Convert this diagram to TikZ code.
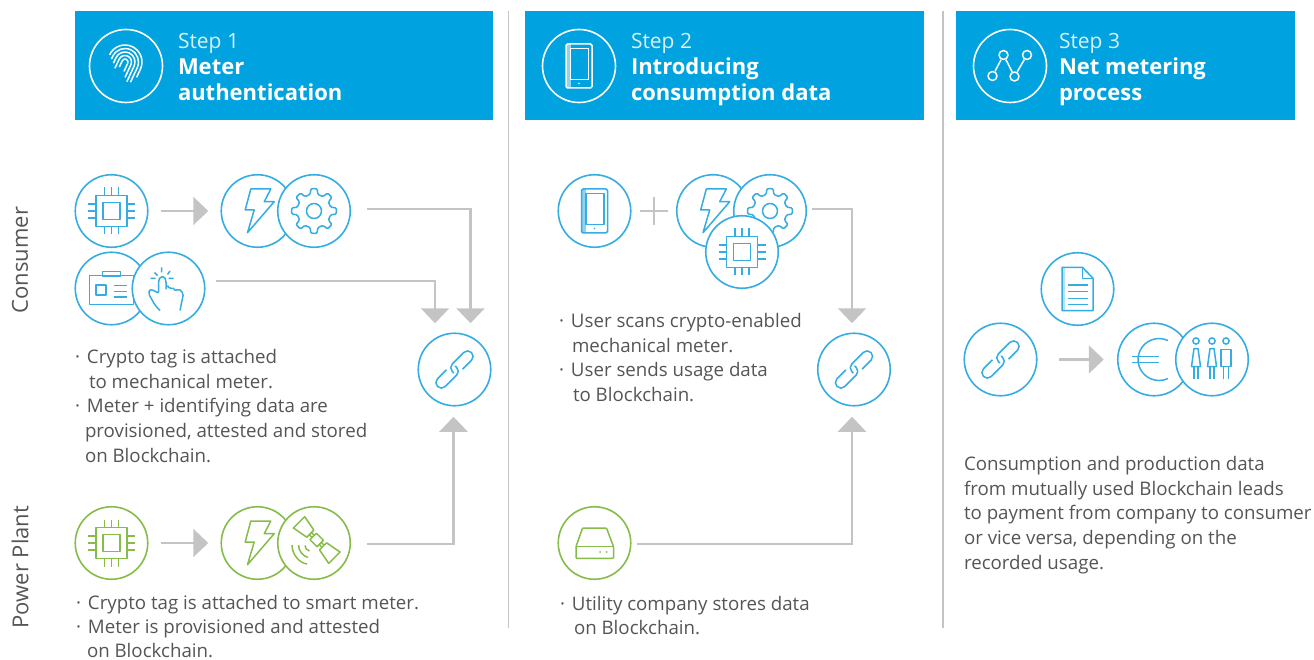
\documentclass[tikz,border=0pt]{standalone}
\usepackage{fontspec}
\setmainfont{Open Sans}
\usetikzlibrary{arrows.meta}
\definecolor{hdr}{HTML}{00A3E0}
\definecolor{bl}{HTML}{35ADE3}
\definecolor{gn}{HTML}{86BC4A}
\definecolor{gr}{HTML}{C4C4C4}
\definecolor{tx}{HTML}{555555}
\definecolor{stepw}{HTML}{D8F1FB}
\newcommand\bl[1]{\makebox[12pt][l]{·}#1}
\tikzset{
 x=1pt,y=-1pt,
 circ/.style={circle,draw=#1,fill=white,line width=1.6pt,minimum size=72.5pt,inner sep=0pt,outer sep=0pt},
 hcirc/.style={circle,draw=white,line width=1.6pt,minimum size=73pt,inner sep=0pt,outer sep=0pt},
 hbox/.style={rectangle,fill=hdr,draw=none,inner sep=0pt,outer sep=0pt},
 icb/.style={color=bl,line width=1.5pt,line join=round},
 icg/.style={color=gn,line width=1.5pt,line join=round},
 icw/.style={color=white,line width=1.5pt,line join=round},
 conn/.style={draw=gr,line width=2.6pt,-{Triangle[width=28pt,length=15pt]}},
 body/.style={text=tx,font=\fontsize{18.7}{24.75}\selectfont,align=left,inner sep=0pt,outer sep=0pt,anchor=north west},
 htxt/.style={text=white,font=\fontsize{22}{26}\selectfont,align=left,inner sep=0pt,outer sep=0pt,anchor=north west},
 side/.style={text=tx,font=\fontsize{22}{26}\selectfont,rotate=90,inner sep=0pt},
 divider/.style={draw=gr,line width=1.2pt},
 chipicon/.pic={
  \draw (-15.5,-15.5) rectangle (15.5,15.5);
  \draw (-8.5,-8.5) rectangle (8.5,8.5);
  \foreach \d in {-7,0,7}{
   \draw (\d,-15.5)--(\d,-23.5);\draw (\d,15.5)--(\d,23.5);
   \draw (-15.5,\d)--(-23.5,\d);\draw (15.5,\d)--(23.5,\d);}
 },
 bolticon/.pic={
  \draw (-6.7,-22)--(13.3,-22)--(6.7,-9.3)--(16.7,-9.3)--(-10,21.7)--(-3.3,-1)--(-12.3,-1)--cycle;
 },
 gearicon/.pic={
  \draw[rounded corners=1.2pt] (-13:17) \foreach \a in {0,45,...,315}{ -- (\a-8:22.5) -- (\a+8:22.5) -- (\a+13:17) -- (\a+32:17)} -- cycle;
  \draw (0,0) circle (7.5);
 },
 badgeicon/.pic={
  \draw (-9,-13)--(-22,-13)--(-22,16)--(22,16)--(22,-13)--(9,-13);
  \draw (-9,-17) rectangle (9,-12.5);
  \draw (-15.5,-3.5) rectangle (-5.5,6.5);
  \draw (2,-3)--(15,-3) (2,3)--(15,3) (2,8.5)--(15,8.5);
 },
 handicon/.pic={
  \draw[rounded corners=2pt] (-2.5,1)--(-2.5,-8)--(-4,-12)--(-8,-12)--(-10,-8)--(-10,5)--(-14,2)--(-19,1)--(-20,5)--(-13.5,16.7)--(-8.5,22);
  \draw[rounded corners=2pt] (11.5,22)--(15,5)--(10,0)--(6.5,2.7)--(5,-1)--(1,0.7)--(-1,-3);
  \draw (-14,-16)--(-11,-13) (-7,-21)--(-7,-16) (1.5,-17.5)--(-1,-14) (-18,-10)--(-13,-10) (0,-10)--(5,-10);
 },
 satelliteicon/.pic={
  \begin{scope}[shift={(2.7,-3)},rotate=-45]
   \draw (-5,-4.5) rectangle (5,4.5);
   \draw (-5,-1.5)--(-9,-1.5) (-5,1.5)--(-9,1.5) (5,-1.5)--(9,-1.5) (5,1.5)--(9,1.5);
   \draw (-9,-5)--(-9,5)--(-25,8)--(-25,-8)--cycle;
   \draw (9,-5)--(9,5)--(25,8)--(25,-8)--cycle;
  \end{scope}
 },
 wavesicon/.pic={
  \draw (-22,2) .. controls (-22,11) and (-15,20) .. (-7,21);
  \draw (-15.5,2) .. controls (-15.5,8) and (-11,13) .. (-6,14.5);
  \draw (-9,2.5) .. controls (-9,5) and (-7,7.5) .. (-4.5,8);
 },
 phoneicon/.pic={
  \fill[opacity=.55] (-13,-22) rectangle (-8.5,22);
  \draw[rounded corners=1.5pt] (-13,-22) rectangle (13,22);
  \draw (-8.5,-17.5) rectangle (9.5,13.3);
  \fill (0,17.5) circle (0.9);
 },
 linkicon/.pic={
  \begin{scope}[rotate=45]
   \draw[rounded corners=5.4pt] (-3,2)--(-3,-5.5)--(24,-5.5)--(24,5.5)--(6,5.5);
   \draw[rounded corners=5.4pt] (3,-2)--(3,5.5)--(-24,5.5)--(-24,-5.5)--(-6,-5.5);
  \end{scope}
 },
 docicon/.pic={
  \fill[opacity=.35] (-15.5,-21.7) rectangle (-12.5,21.7);
  \draw (5,-21.7)--(-15.5,-21.7)--(-15.5,21.7)--(15.5,21.7)--(15.5,-10.7)--cycle;
  \draw (5,-21.7)--(5,-10.7)--(15.5,-10.7);
  \foreach \y in {-4,2.7,9.3,15.3}{\draw (-10,\y)--(10,\y);}
 },
 euroicon/.pic={
  \draw (13.9,-19) arc[start angle=-65,end angle=-295,radius=21];
  \draw (-21.7,-3)--(5.3,-3) (-21.7,3)--(5.3,3);
 },
 peopleicon/.pic={
  \foreach \x in {-16,0}{
   \draw (\x,-18.5) circle (3.1);
   \draw (\x-2,-11)--(\x+2,-11)--(\x+4.5,7)--(\x-4.5,7)--cycle;
   \draw (\x-2,7)--(\x-2,19) (\x+2,7)--(\x+2,19);}
  \draw (14,-18.5) circle (3.1);
  \draw (9,-10) rectangle (19,7);
  \draw (11.5,7)--(11.5,19) (16.5,7)--(16.5,19);
 },
 driveicon/.pic={
  \draw[rounded corners=1pt] (-12,-15)--(12,-15)--(19,3.7)--(19,15.3)--(-18.5,15.3)--(-18.5,3.7)--cycle;
  \draw (-18.5,3.7)--(19,3.7);
  \fill (5.5,9) circle (1) (12,9) circle (1);
 },
 fingericon/.pic={
  \begin{scope}[shift={(-1,-4)},rotate=-25]
   \foreach \r/\a/\b in {3/7/9,6.5/10/14,10/6/17,13.5/3/16,17/0/9}{
    \draw (-\r,\a) -- (-\r,0) arc[start angle=180,end angle=360,radius=\r] -- (\r,\b);}
  \end{scope}
 },
 neticon/.pic={
  \node[circle,draw,inner sep=0pt,minimum size=9pt,line width=1.5pt] (n1) at (-17.5,10) {};
  \node[circle,draw,inner sep=0pt,minimum size=9pt,line width=1.5pt] (n2) at (-6.5,-11) {};
  \node[circle,draw,inner sep=0pt,minimum size=9pt,line width=1.5pt] (n3) at (4.5,10.5) {};
  \node[circle,draw,inner sep=0pt,minimum size=9pt,line width=1.5pt] (n4) at (17,-11) {};
  \draw (n1)--(n2);\draw (n2)--(n3);\draw (n3)--(n4);
 },
}
\newcommand\steplabel[1]{{\fontsize{21}{26}\selectfont\textcolor{stepw}{#1}}}
\begin{document}
\begin{tikzpicture}
\useasboundingbox (0,0) rectangle (1314,660);
% dividers
\coordinate (d1a) at (508.5,11); \coordinate (d1b) at (508.5,628);
\coordinate (d2a) at (943,11); \coordinate (d2b) at (943,628);
\draw[divider] (d1a)--(d1b);
\draw[divider] (d2a)--(d2b);
% headers
\node[hbox,minimum width=418pt,minimum height=109pt] (h1) at (283.5,66) {};
\node[hbox,minimum width=399pt,minimum height=109pt] (h2) at (724.5,66) {};
\node[hbox,minimum width=339pt,minimum height=109pt] (h3) at (1125.5,66) {};
\node[hcirc] (hc1) at (126,66) {};
\node[hcirc] (hc2) at (579,66) {};
\node[hcirc] (hc3) at (1010,66) {};
\pic[icw] at (hc1) {fingericon};
\pic[icw] at (hc2) {phoneicon};
\pic[icw] at (hc3) {neticon};
\node[htxt] (ht1) at (178,33) {\steplabel{Step 1}\\\textbf{Meter}\\\textbf{authentication}};
\node[htxt] (ht2) at (631,33) {\steplabel{Step 2}\\\textbf{Introducing}\\\textbf{consumption data}};
\node[htxt] (ht3) at (1059,33) {\steplabel{Step 3}\\\textbf{Net metering}\\\textbf{process}};
% side labels
\node[side] (sc) at (20,260) {Consumer};
\node[side] (sp) at (20,567) {Power Plant};
% step 1 consumer
\node[circ=bl] (chip1) at (111.5,211) {}; \pic[icb] at (chip1) {chipicon};
\node[circ=bl] (bolt1) at (257.5,211) {}; \pic[icb] at (bolt1) {bolticon};
\node[circ=bl] (gear1) at (314,211) {}; \pic[icb] at (gear1) {gearicon};
\node[circ=bl] (badge1) at (111.5,288.5) {}; \pic[icb] at (badge1) {badgeicon};
\node[circ=bl] (hand1) at (168.5,288.5) {}; \pic[icb] at (hand1) {handicon};
\node[circ=bl] (link1) at (454.5,369.5) {}; \pic[icb] at (link1) {linkicon};
\draw[conn,shorten <=13pt,shorten >=0pt] (chip1.east) -- ([xshift=-13pt]bolt1.west);
\draw[conn,shorten <=17pt] ([yshift=2pt]gear1.east) -| ([xshift=16pt,yshift=10pt]link1.north);
\draw[conn,shorten <=11pt] ([yshift=7.5pt]hand1.east) -| ([xshift=-19.5pt,yshift=10pt]link1.north);
\node[body] (t1) at (75,346) {\strut\bl{Crypto tag is attached}\\\hspace*{14pt}to mechanical meter.\\\bl{Meter + identifying data are}\\\hspace*{10pt}provisioned, attested and stored\\\hspace*{10pt}on Blockchain.};
% step 1 plant
\node[circ=gn] (chip2) at (111.5,543) {}; \pic[icg] at (chip2) {chipicon};
\node[circ=gn] (bolt2) at (257.5,543) {}; \pic[icg] at (bolt2) {bolticon};
\node[circ=gn] (sat2) at (314,543) {}; \pic[icg] at (sat2) {satelliteicon}; \pic[icg] at (sat2) {wavesicon};
\draw[conn,shorten <=13pt] (chip2.east) -- ([xshift=-13pt]bolt2.west);
\draw[conn,shorten <=17pt] ([yshift=-1pt]sat2.east) -| ([xshift=-1pt,yshift=-11pt]link1.south);
\node[body,font=\fontsize{18.7}{24}\selectfont] (t2) at (76,592.7) {\strut\bl{Crypto tag is attached to smart meter.}\\\bl{Meter is provisioned and attested}\\\hspace*{11pt}on Blockchain.};
% step 2
\node[circ=bl] (phone3) at (594.5,211) {}; \pic[icb] at (phone3) {phoneicon};
\node[circ=bl] (bolt3) at (713,211) {}; \pic[icb] at (bolt3) {bolticon};
\node[circ=bl] (gear3) at (770,211) {}; \pic[icb] at (gear3) {gearicon};
\node[circ=bl] (chip3) at (742,252) {}; \pic[icb] at (chip3) {chipicon};
\node[circ=bl] (link3) at (854,369.5) {}; \pic[icb] at (link3) {linkicon};
\node[circ=gn] (drive3) at (594.5,543) {}; \pic[icg] at (drive3) {driveicon};
\coordinate (pa) at (640,211); \coordinate (pb) at (668,211);
\coordinate (pc) at (654,197); \coordinate (pd) at (654,225);
\draw[draw=gr,line width=2.6pt] (pa)--(pb) (pc)--(pd);
\draw[conn,shorten <=6pt] ([yshift=2pt]gear3.east) -| ([xshift=-2pt,yshift=10pt]link3.north);
\draw[conn,shorten <=6pt] ([yshift=-1pt]drive3.east) -| ([xshift=-2pt,yshift=-11pt]link3.south);
\node[body] (t3) at (559,310) {\strut\bl{User scans crypto-enabled}\\\hspace*{13pt}mechanical meter.\\\bl{User sends usage data}\\\hspace*{14pt}to Blockchain.};
\node[body] (t4) at (560,592.7) {\strut\bl{Utility company stores data}\\\hspace*{14pt}on Blockchain.};
% step 3
\node[circ=bl] (doc4) at (1077.5,289) {}; \pic[icb] at (doc4) {docicon};
\node[circ=bl] (link4) at (1000.5,359.5) {}; \pic[icb] at (link4) {linkicon};
\node[circ=bl] (euro4) at (1154,359.5) {}; \pic[icb] at (euro4) {euroicon};
\node[circ=bl] (people4) at (1212,359.5) {}; \pic[icb] at (people4) {peopleicon};
\draw[conn,shorten <=22pt] (link4.east) -- ([xshift=-14pt]euro4.west);
\node[body] (t5) at (964,453) {\strut Consumption and production data\\from mutually used Blockchain leads\\to payment from company to consumer\\or vice versa, depending on the\\recorded usage.};
\end{tikzpicture}
\end{document}
